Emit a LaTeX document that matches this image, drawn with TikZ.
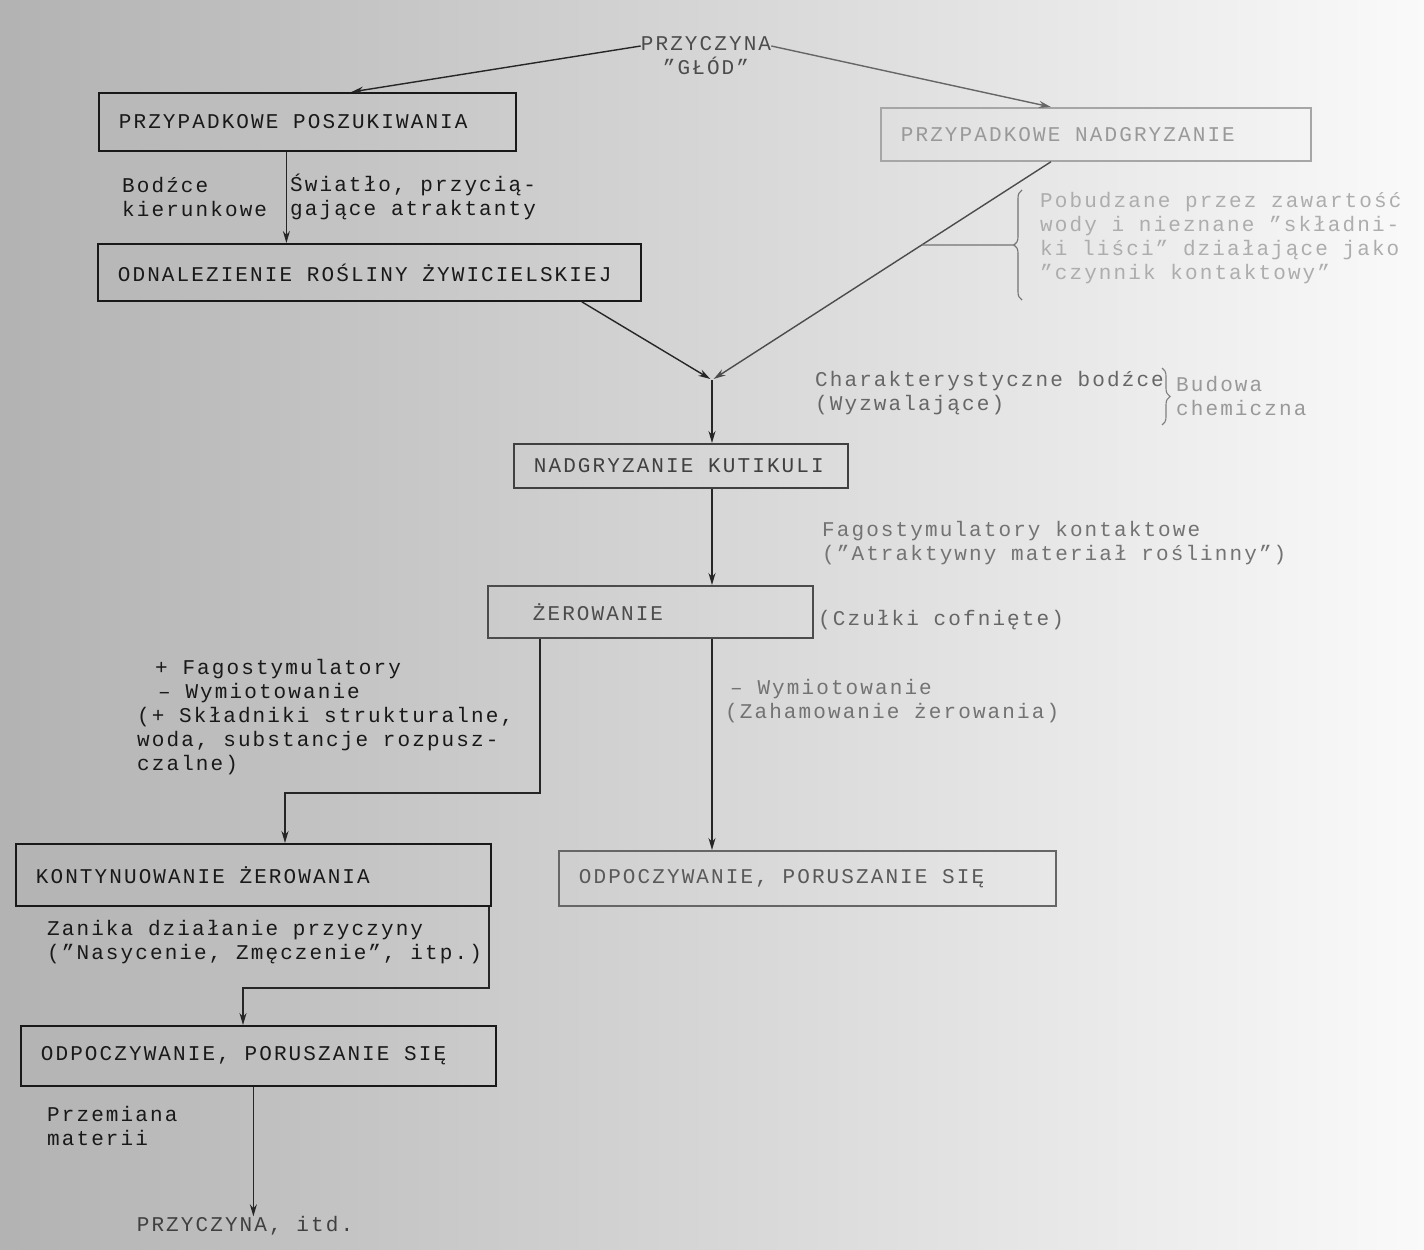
\documentclass[tikz,border=0pt]{standalone}
\usepackage{fontspec}
\setmainfont[LetterSpace=10]{Liberation Mono}
\usetikzlibrary{arrows.meta,decorations.pathreplacing}

\newcommand{\boxline}[2]{\makebox[#1][l]{#2}}

\tikzstyle{textonly}=[inner sep=0pt, align=left, anchor=west, text=black!90]
\tikzstyle{faint}=[textonly, text=black!40]
\tikzstyle{box}=[rectangle, draw=black!90, line width=1.8pt, inner xsep=20pt, inner ysep=0pt, anchor=north west, text=black!90]
\tikzstyle{link}=[->, >={Stealth[length=12pt,width=7pt]}, line width=1.4pt, draw=black!85]
\tikzstyle{curly}=[decorate, decoration={brace, amplitude=8pt}, line width=1.1pt]

\begin{document}
\begin{tikzpicture}[x=1pt, y=-1pt, font=\fontsize{21}{24}\selectfont]
  % Background
  \shade[left color=black!30, right color=black!2] (0,0) rectangle (1424,1250);
  \useasboundingbox (0,0) rectangle (1424,1250);

  % Boxes
  \node (search) [box, minimum height=58pt] at (98,92) {\boxline{377pt}{PRZYPADKOWE POSZUKIWANIA}};
  \node (nibble) [box, minimum height=53pt, draw=black!35, text=black!40] at (880,107) {\boxline{390pt}{PRZYPADKOWE NADGRYZANIE}};
  \node (find) [box, minimum height=57pt] at (97,243) {\boxline{503pt}{ODNALEZIENIE ROŚLINY ŻYWICIELSKIEJ}};
  \node (cuticle) [box, minimum height=44pt, draw=black!75, text=black!75] at (513,443) {\boxline{294pt}{NADGRYZANIE KUTIKULI}};
  \node (feed) [box, minimum height=52pt, draw=black!70, text=black!70] at (487,585) {\boxline{285pt}{\hspace*{25pt}ŻEROWANIE}};
  \node (cont) [box, minimum height=62pt] at (15,843) {\boxline{435pt}{KONTYNUOWANIE ŻEROWANIA}};
  \node (rest1) [box, minimum height=55pt, draw=black!60, text=black!65] at (558,850) {\boxline{457pt}{ODPOCZYWANIE, PORUSZANIE SIĘ}};
  \node (rest2) [box, minimum height=60pt] at (20,1025) {\boxline{435pt}{ODPOCZYWANIE, PORUSZANIE SIĘ}};

  % Texts
  \node (cause) [textonly, anchor=center, align=center, text=black!70] at (706,56) {PRZYCZYNA\\"GŁÓD"};
  \node (dirlbl) [textonly] at (122,197) {Bodźce\\kierunkowe};
  \node (lightlbl) [textonly] at (290,197) {Światło, przycią-\\gające atraktanty};
  \node (waterlbl) [faint, text=black!32] at (1040,238) {Pobudzane przez zawartość\\wody i nieznane "składni-\\ki liści" działające jako\\"czynnik kontaktowy"};
  \node (charlbl) [textonly, text=black!60] at (815,393) {Charakterystyczne bodźce\\(Wyzwalające)};
  \node (chemlbl) [faint] at (1176,396) {Budowa\\chemiczna};
  \node (fagolbl) [textonly, text=black!55] at (822,543) {Fagostymulatory kontaktowe\\("Atraktywny materiał roślinny")};
  \node (antlbl) [textonly, text=black!60] at (818,620) {(Czułki cofnięte)};
  \node (pluslbl) [textonly] at (137,717) {\hspace*{18pt}+ Fagostymulatory\\\hspace*{21pt}– Wymiotowanie\\(+ Składniki strukturalne,\\woda, substancje rozpusz-\\czalne)};
  \node (minlbl) [textonly, text=black!55] at (725,701) {\hspace*{5pt}– Wymiotowanie\\(Zahamowanie żerowania)};
  \node (satedlbl) [textonly] at (47,942) {Zanika działanie przyczyny\\("Nasycenie, Zmęczenie", itp.)};
  \node (metablbl) [textonly] at (47,1126) {Przemiana\\materii};
  \node (again) [textonly, anchor=center, text=black!75] at (245,1226) {PRZYCZYNA, itd.};

  % Points
  \coordinate (meet) at (712,380);
  \coordinate (bendA) at (285,793);
  \coordinate (bendB) at (243,988);
  \coordinate (btip) at (1014,245);
  \coordinate (bfar) at (800,245);
  \coordinate (nibout) at ([xshift=-45pt]nibble.south);

  % Arrows
  \draw [link] ([yshift=10pt]cause.west) -- ([xshift=44pt]search.north);
  \draw [link, draw=black!60] ([yshift=10pt]cause.east) -- ([xshift=-45pt]nibble.north);
  \draw [link] ([xshift=-21pt]search.south) -- ([xshift=-21pt]search.south |- find.north);
  \draw [link, shorten >=2pt] ([xshift=-60pt]find.south east) -- (meet);
  \draw [link, shorten >=2pt, draw=black!70] (nibout) -- (meet);
  \draw [line width=1.1pt, draw=black!55] (intersection of nibout--meet and btip--bfar) -- (btip);
  \draw [link] (meet) -- (meet |- cuticle.north);
  \draw [link] (meet |- cuticle.south) -- (meet |- feed.north);
  \draw [link] ([xshift=53pt]feed.south west) |- (bendA) -- (bendA |- cont.north);
  \draw [link] (meet |- feed.south) -- (meet |- rest1.north);
  \draw [link] ([xshift=-3pt]cont.south east) |- (bendB) -- (bendB |- rest2.north);
  \draw [link] ([xshift=-5pt]rest2.south) -- ([xshift=-5pt]rest2.south |- again.north);

  % Braces
  \draw [curly, draw=black!55] (1022,300) -- (1022,190);
  \draw [curly, draw=black!50] (1162,368) -- (1162,425);
\end{tikzpicture}
\end{document}
